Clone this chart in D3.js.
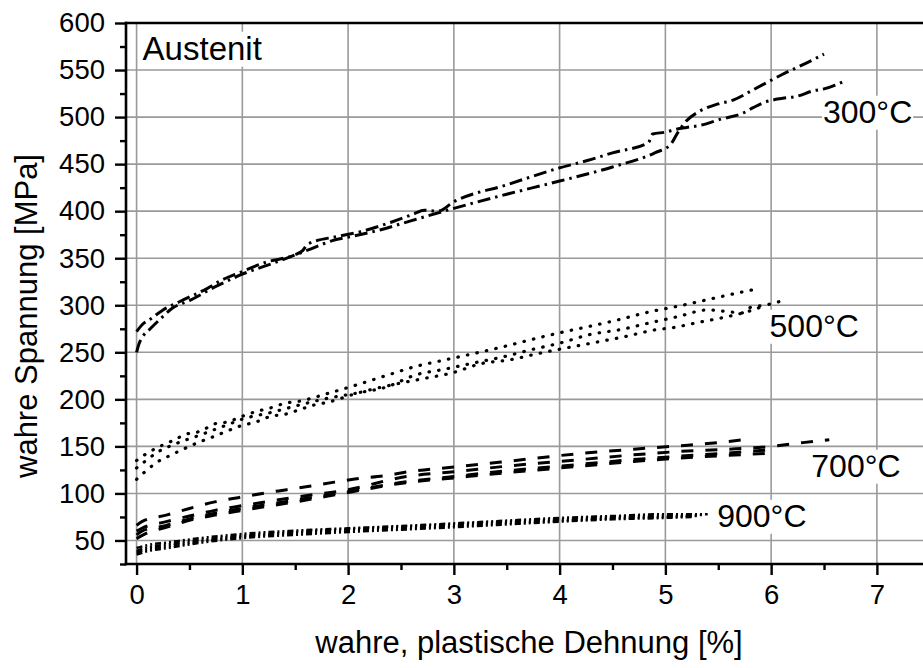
<!DOCTYPE html>
<html>
<head>
<meta charset="utf-8">
<script src="https://cdn.jsdelivr.net/npm/d3@7/dist/d3.min.js"></script>
<style>
  html, body { margin: 0; padding: 0; background: #fff; }
  svg { display: block; }
  text { font-family: "Liberation Sans", Arial, Helvetica, sans-serif; fill: #000; }
</style>
</head>
<body>
<svg id="chart" width="923" height="668"></svg>
<script>
// Fließkurven Austenit: wahre Spannung über wahre, plastische Dehnung
const xTicks = [0, 1, 2, 3, 4, 5, 6, 7];
const yTicks = [50, 100, 150, 200, 250, 300, 350, 400, 450, 500, 550, 600];

// 300 °C – zwei Versuche (Strich-Punkt)
const t300a = [[0,272],[0.05,279],[0.14,286],[0.25,295],[0.41,304],[0.67,318],[0.81,327],[0.96,334],[1.23,346],[1.48,353],[1.57,358],[1.62,365],[1.89,373],[2.11,378],[2.4,388],[2.62,397],[2.72,401],[2.85,400],[3.0,410],[3.5,428],[4.0,446],[4.3,455],[4.5,462],[4.84,473],[4.88,482],[5.0,484],[5.1,487],[5.2,489],[5.32,491],[5.53,498],[5.73,504],[5.83,510],[5.92,515],[6.11,520],[6.24,522],[6.4,528],[6.5,530],[6.71,539]];
const t300b = [[0,250],[0.02,258],[0.06,267],[0.12,274],[0.23,286],[0.34,297],[0.5,305],[0.75,320],[1.0,333],[1.3,345],[1.65,360],[1.86,369],[2.03,373],[2.3,380],[2.6,390],[3.0,403],[3.5,418],[4.0,432],[4.5,447],[4.9,462],[5.05,471],[5.12,484],[5.2,496],[5.32,506],[5.5,514],[5.64,518],[5.83,529],[6.1,545],[6.38,560],[6.5,567]];

// 500 °C – drei Versuche (gepunktet)
const t500a = [[0,135],[0.09,142],[0.22,150],[0.34,156],[0.47,163],[0.6,166],[0.74,174],[0.86,176],[1.0,182],[1.13,187],[1.27,191],[1.41,196],[1.54,198],[1.8,206],[2.1,216],[2.38,226],[2.64,235],[2.92,242],[3.2,249],[3.47,256],[3.75,264],[4.01,271],[4.3,278],[4.57,285],[4.85,293],[5.12,299],[5.4,306],[5.68,313],[5.85,317]];
const t500b = [[0,127],[0.09,135],[0.2,144],[0.33,151],[0.47,157],[0.6,162],[0.74,168],[0.86,173],[1.0,179],[1.27,186],[1.54,194],[1.8,201],[2.1,207],[2.36,213],[2.64,226],[2.91,232],[3.2,239],[3.46,245],[3.74,253],[4.01,260],[4.29,269],[4.57,274],[4.84,281],[5.12,288],[5.4,295],[5.73,292],[5.81,298],[5.94,300],[6.08,304]];
const t500c = [[0,115],[0.09,124],[0.19,133],[0.31,140],[0.44,147],[0.58,154],[0.72,160],[0.85,166],[0.99,172],[1.13,176],[1.27,182],[1.4,184],[1.54,189],[1.68,194],[1.81,197],[2.1,207],[2.44,216],[2.71,222],[2.98,228],[3.26,238],[3.53,242],[3.81,249],[4.08,255],[4.36,261],[4.63,267],[4.91,274],[5.06,276],[5.32,282],[5.59,288],[5.8,294],[5.95,300]];

// 700 °C – vier Versuche (gestrichelt)
const t700a = [[0,66],[0.05,70],[0.28,77],[0.5,84],[0.74,91],[0.96,95.5],[1.19,100],[1.42,104],[1.65,108],[1.87,112],[2.11,116],[2.33,118.5],[2.57,123],[3.0,128],[3.5,134],[4.2,142.5],[4.7,147],[5.12,150.5],[5.5,154],[5.8,158]];
const t700b = [[0,60],[0.05,63],[0.28,70],[0.5,76],[0.74,82],[1.0,87],[1.5,96],[2.0,104],[2.55,118],[3.0,123],[3.5,129],[4.2,136],[4.7,141],[5.12,144.5],[5.6,147],[6.0,150],[6.3,154],[6.55,157]];
const t700c = [[0,56],[0.05,60],[0.28,66],[0.5,73],[0.74,79],[1.0,84],[1.5,93],[2.0,102],[2.55,112.5],[3.0,118],[3.5,124],[4.2,131],[4.7,136],[5.12,139.5],[5.6,143],[6.05,147]];
const t700d = [[0,52],[0.1,58],[0.28,64],[0.5,71.5],[0.74,77],[1.0,82],[1.5,91],[2.0,101],[2.55,111.5],[3.0,116.5],[3.5,122],[4.2,129],[4.7,134],[5.12,137.5],[5.6,140.5],[6.05,143]];

// 900 °C – vier Versuche (Strich-Punkt-Punkt)
const t900a = [[0,42],[0.1,45],[0.3,48],[0.6,52.5],[1.0,57],[1.5,60.5],[2.0,63],[2.8,67],[3.4,70.5],[4.0,74],[4.5,76],[5.0,78],[5.4,78]];
const t900b = [[0,39],[0.1,42.5],[0.3,46],[0.6,50.5],[1.0,55],[1.5,59],[2.0,62],[2.8,66],[3.4,69.5],[4.0,72.5],[4.5,75],[5.0,76.5],[5.35,77]];
const t900c = [[0,37],[0.1,40.5],[0.3,44],[0.6,49],[1.0,54],[1.5,57.5],[2.0,60.5],[2.8,64.5],[3.4,68],[4.0,71],[4.5,73.5],[5.0,75],[5.3,76]];
const t900d = [[0,35],[0.1,38.5],[0.3,42],[0.6,47.5],[1.0,52.5],[1.5,56],[2.0,59],[2.8,63],[3.4,66.5],[4.0,70],[4.5,72.5],[5.0,74],[5.25,75]];

const tempLabels = ["300°C", "500°C", "700°C", "900°C"];
const tempLabelPos = [[6.49, 494], [5.985, 266.6], [6.38, 117.7], [5.49, 64.5]];
const phaseLabel = "Austenit";
const phaseLabelPos = [0.057, 561];

const xTitle = "wahre, plastische Dehnung [%]";
const yTitle = "wahre Spannung [MPa]";

// ---------------------------------------------------------------
const svg = d3.select("#chart");
const plotLeft = 126, plotTop = 23, plotBottom = 564;

const x = d3.scaleLinear().domain([-0.1, 7.5]).range([plotLeft, plotLeft + 7.6 * 105.76]);
const y = d3.scaleLinear().domain([25, 600]).range([plotBottom, plotTop]);

const plotRight = x(7.5);

// Gitterlinien
const grid = svg.append("g").attr("class", "grid");
grid.selectAll("line.gx").data(xTicks).join("line")
  .attr("x1", d => x(d)).attr("x2", d => x(d))
  .attr("y1", plotTop).attr("y2", plotBottom)
  .attr("stroke", "#9a9a9a").attr("stroke-width", 1.6);
grid.selectAll("line.gy").data(yTicks).join("line")
  .attr("x1", plotLeft).attr("x2", plotRight)
  .attr("y1", d => y(d)).attr("y2", d => y(d))
  .attr("stroke", "#9a9a9a").attr("stroke-width", 1.6);

// Beschriftungen mit weißem Hintergrund (unter den Kurven)
const labelLayer = svg.append("g");
function boxedLabel(txt, pos, size) {
  const g = labelLayer.append("g");
  const t = g.append("text")
    .attr("x", x(pos[0])).attr("y", y(pos[1]))
    .attr("font-size", size).text(txt);
  const bb = t.node().getBBox();
  g.insert("rect", "text")
    .attr("x", bb.x - 1).attr("y", bb.y + 2)
    .attr("width", bb.width + 2).attr("height", bb.height - 2)
    .attr("fill", "#fff");
}
boxedLabel(phaseLabel, phaseLabelPos, 33);
tempLabels.forEach((lab, i) => boxedLabel(lab, tempLabelPos[i], 32));

// Kurven
const line = d3.line().x(d => x(d[0])).y(d => y(d[1])).curve(d3.curveMonotoneX);
const groups = [
  { data: [t300a, t300b], dash: "13,5,2.5,5", width: 3, cap: "butt" },
  { data: [t500a, t500b, t500c], dash: "0.5,9.2", width: 3.2, cap: "round" },
  { data: [t700a, t700b, t700c, t700d], dash: "12,12", width: 3, cap: "butt" },
  { data: [t900a, t900b, t900c, t900d], dash: "6,3,2,3,2,3", width: 2.5, cap: "butt" }
];
const curves = svg.append("g");
groups.forEach(gr => {
  gr.data.forEach(series => {
    curves.append("path")
      .attr("d", line(series))
      .attr("fill", "none")
      .attr("stroke", "#000")
      .attr("stroke-width", gr.width)
      .attr("stroke-dasharray", gr.dash)
      .attr("stroke-linecap", gr.cap);
  });
});

// Achsen
const tickFont = 27.5;
const xMinor = d3.range(0, 7.51, 0.5).filter(v => !xTicks.includes(v));
const yMinor = d3.range(25, 601, 25).filter(v => !yTicks.includes(v));

const xAxis = svg.append("g").attr("transform", `translate(0,${plotBottom})`)
  .call(d3.axisBottom(x).tickValues(xTicks).tickFormat(d3.format("d")).tickSize(11).tickPadding(9));
const xAxisMinor = svg.append("g").attr("transform", `translate(0,${plotBottom})`)
  .call(d3.axisBottom(x).tickValues(xMinor).tickFormat("").tickSize(6));
const yAxis = svg.append("g").attr("transform", `translate(${plotLeft},0)`)
  .call(d3.axisLeft(y).tickValues(yTicks).tickFormat(d3.format("d")).tickSize(11).tickPadding(10));
const yAxisMinor = svg.append("g").attr("transform", `translate(${plotLeft},0)`)
  .call(d3.axisLeft(y).tickValues(yMinor).tickFormat("").tickSize(6));

[xAxis, xAxisMinor, yAxis, yAxisMinor].forEach(a => {
  a.select(".domain").remove();
  a.selectAll(".tick line").attr("stroke", "#000").attr("stroke-width", 2.4);
  a.selectAll(".tick text").attr("font-size", tickFont)
    .attr("font-family", '"Liberation Sans", Arial, sans-serif').attr("fill", "#000");
});

// Achslinien und oberer Rahmen
svg.append("line").attr("x1", plotLeft).attr("x2", plotLeft)
  .attr("y1", plotTop - 1.2).attr("y2", plotBottom + 1.2)
  .attr("stroke", "#000").attr("stroke-width", 2.6);
svg.append("line").attr("x1", plotLeft - 1.2).attr("x2", plotRight)
  .attr("y1", plotBottom).attr("y2", plotBottom)
  .attr("stroke", "#000").attr("stroke-width", 2.6);
svg.append("line").attr("x1", plotLeft - 1.2).attr("x2", plotRight)
  .attr("y1", plotTop).attr("y2", plotTop)
  .attr("stroke", "#000").attr("stroke-width", 2.6);

// Achsentitel
svg.append("text")
  .attr("x", 529).attr("y", 653)
  .attr("text-anchor", "middle").attr("font-size", 31)
  .text(xTitle);
svg.append("text")
  .attr("transform", `translate(37,${(150 + 482) / 2}) rotate(-90)`)
  .attr("text-anchor", "middle").attr("font-size", 31)
  .text(yTitle);
</script>
</body>
</html>
